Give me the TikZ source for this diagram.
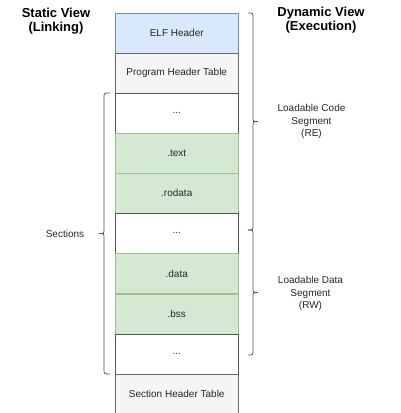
\documentclass[tikz,border=0pt]{standalone}
\usepackage{fontspec}
\setmainfont{Liberation Sans}
\begin{document}
\begin{tikzpicture}[x=1pt,y=-1pt,
  cell/.style={draw, line width=0.8pt, minimum width=122.5pt, minimum height=40pt,
    inner sep=0pt, font=\fontsize{10}{12.5}\selectfont, text=black!85},
  bluecell/.style={cell, fill=blueF, draw=blueD},
  greycell/.style={cell, fill=greyF, draw=greyD},
  whitecell/.style={cell, fill=white, draw=whiteD},
  greencell/.style={cell, fill=greenF, draw=greenD},
  title/.style={font=\fontsize{13}{14.5}\selectfont\bfseries, align=center, text=black},
  lbl/.style={font=\fontsize{10}{12.5}\selectfont, align=center, text=black!85},
  bracestyle/.style={draw=braceC, line width=0.8pt}]
\definecolor{blueF}{HTML}{DAE8FC}
\definecolor{blueD}{HTML}{6C8EBF}
\definecolor{greyF}{HTML}{F5F5F5}
\definecolor{greyD}{HTML}{666666}
\definecolor{whiteD}{HTML}{555555}
\definecolor{greenF}{HTML}{D5E8D4}
\definecolor{greenD}{HTML}{9CC38A}
\definecolor{braceC}{HTML}{555555}
\useasboundingbox (0,0) rectangle (401,413);

\node[bluecell]  (elf)    at (176.75,33)    {ELF Header};
\node[greycell]  (pht)    at (176.75,73)    {Program Header Table};
\node[whitecell] (dotsa)  at (176.75,113)   {...};
\node[greencell] (text)   at (176.75,153)   {.text};
\node[greencell] (rodata) at (176.75,193)   {.rodata};
\node[whitecell] (dotsb)  at (176.75,233)   {...};
\node[greencell] (data)   at (176.75,273.5) {.data};
\node[greencell] (bss)    at (176.75,314)   {.bss};
\node[whitecell] (dotsc)  at (176.75,354)   {...};
\node[greycell]  (sht)    at (176.75,394)   {Section Header Table};

\node[title] (static)  at (56,21)  {Static View\\(Linking)};
\node[title] (dynamic) at (321,20) {Dynamic View\\(Execution)};

\node[lbl] (code)     at (311.5,121.5) {Loadable Code\\Segment\\(RE)};
\node[lbl] (datalbl)  at (310.5,293.5) {Loadable Data\\Segment\\(RW)};
\node[lbl] (sections) at (65,233.5)    {Sections};

% right brace: code segment
\draw[bracestyle] (248,13) .. controls (253,13) .. (253,18) -- (253,116.5)
  .. controls (253,121.5) .. (258,121.5) .. controls (253,121.5) .. (253,126.5)
  -- (253,225) .. controls (253,230) .. (248,230);
% right brace: data segment
\draw[bracestyle] (248,230) .. controls (253,230) .. (253,235) -- (253,287.5)
  .. controls (253,292.5) .. (258,292.5) .. controls (253,292.5) .. (253,297.5)
  -- (253,350) .. controls (253,355) .. (248,355);
% left brace: sections
\draw[bracestyle] (110,93) .. controls (104,93) .. (104,98) -- (104,228.5)
  .. controls (104,233.5) .. (99,233.5) .. controls (104,233.5) .. (104,238.5)
  -- (104,369) .. controls (104,374) .. (110,374);
\end{tikzpicture}
\end{document}
